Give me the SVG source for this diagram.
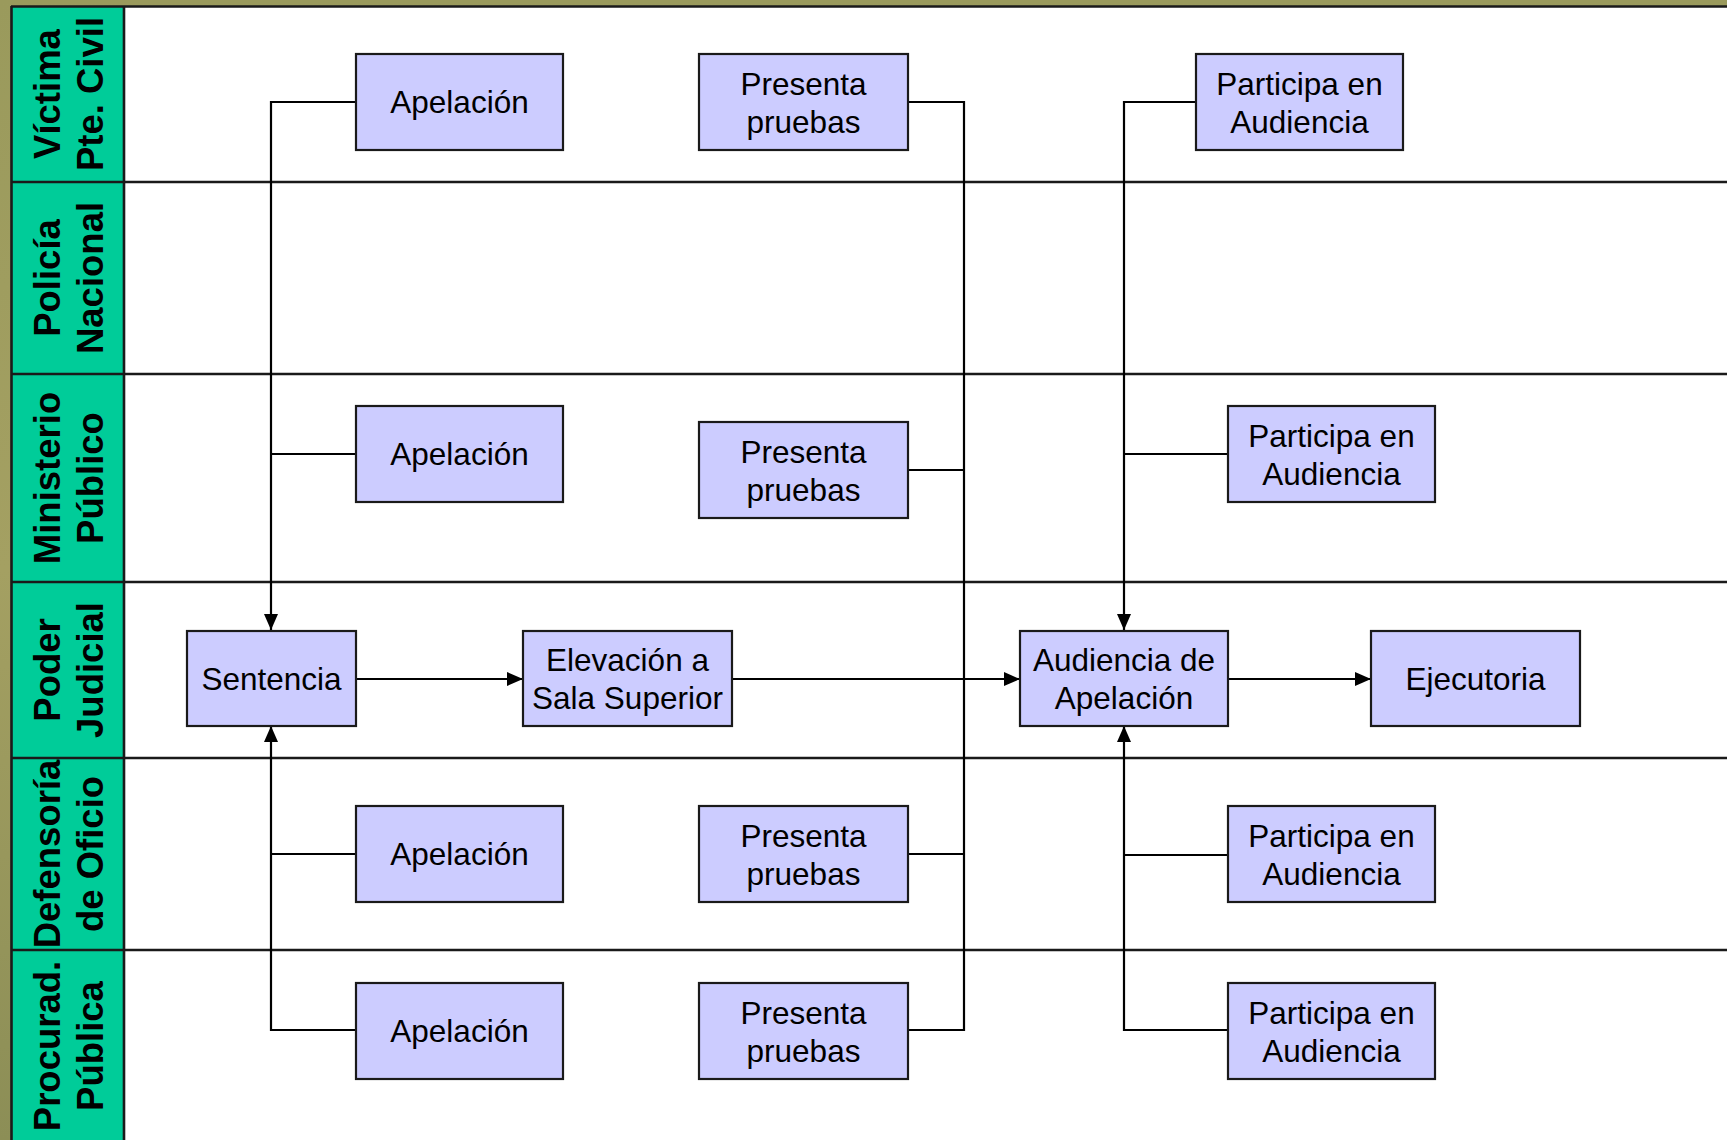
<svg xmlns="http://www.w3.org/2000/svg" width="1727" height="1140" viewBox="0 0 1727 1140">
<defs>
<linearGradient id="bg" x1="0" y1="0" x2="0" y2="1">
<stop offset="0" stop-color="#9a9a5c"/>
<stop offset="0.5" stop-color="#a4a062"/>
<stop offset="1" stop-color="#8c8e56"/>
</linearGradient>
<marker id="arr" markerUnits="userSpaceOnUse" viewBox="0 0 16 14" markerWidth="16" markerHeight="14" refX="16" refY="7" orient="auto">
<path d="M0,0 L16,7 L0,14 z" fill="#000"/>
</marker>
<style>
.lbl{font-family:"Liberation Sans",Arial,sans-serif;font-weight:bold;font-size:36.5px;fill:#000;text-anchor:middle}
.box rect{fill:#ccccff;stroke:#1a1a1a;stroke-width:2.2}
.box text{font-family:"Liberation Sans",Arial,sans-serif;font-size:31.5px;fill:#000;text-anchor:middle}
.lane{stroke:#1a1a1a;stroke-width:2.6;fill:none}
.conn path{stroke:#000;stroke-width:2.2;fill:none}
.conn path.a{marker-end:url(#arr)}
</style>
</defs>
<rect x="0" y="0" width="1727" height="1140" fill="url(#bg)"/>
<rect x="124" y="6" width="1603" height="1134" fill="#fff"/>
<rect x="11" y="6" width="113" height="1134" fill="#00cc99"/>
<g id="lanes">
<path class="lane" d="M11,6.5 H1727"/>
<path class="lane" d="M11,182 H1727 M11,374 H1727 M11,582 H1727 M11,758 H1727 M11,950 H1727"/>
<path class="lane" d="M11.5,6 V1140 M124,6 V1140"/>
</g>
<g id="labels">
<text class="lbl" transform="translate(60,94) rotate(-90)">Víctima</text>
<text class="lbl" transform="translate(103,94) rotate(-90)">Pte. Civil</text>
<text class="lbl" transform="translate(60,278) rotate(-90)">Policía</text>
<text class="lbl" transform="translate(103,278) rotate(-90)">Nacional</text>
<text class="lbl" transform="translate(60,478) rotate(-90)">Ministerio</text>
<text class="lbl" transform="translate(103,478) rotate(-90)">Público</text>
<text class="lbl" transform="translate(60,670) rotate(-90)">Poder</text>
<text class="lbl" transform="translate(103,670) rotate(-90)">Judicial</text>
<text class="lbl" transform="translate(60,854) rotate(-90)">Defensoría</text>
<text class="lbl" transform="translate(103,854) rotate(-90)">de Oficio</text>
<text class="lbl" transform="translate(60,1046) rotate(-90)">Procurad.</text>
<text class="lbl" transform="translate(103,1046) rotate(-90)">Pública</text>
</g>
<g class="conn" id="connectors">
<path class="a" d="M356,102 H271 V630"/>
<path d="M356,454 H271"/>
<path d="M356,854 H271"/>
<path class="a" d="M356,1030 H271 V726"/>
<path class="a" d="M356,679 H523"/>
<path d="M908,102 H964 V1030 H908"/>
<path d="M908,470 H964"/>
<path d="M908,854 H964"/>
<path class="a" d="M732,679 H1020"/>
<path class="a" d="M1196,102 H1124 V630"/>
<path d="M1228,454 H1124"/>
<path d="M1228,855 H1124"/>
<path class="a" d="M1228,1030 H1124 V726"/>
<path class="a" d="M1228,679 H1371"/>
</g>
<g class="box" id="apel1"><rect x="356" y="54" width="207" height="96"/><text x="459.5" y="113">Apelación</text></g>
<g class="box" id="pres1"><rect x="699" y="54" width="209" height="96"/><text x="803.5" y="95">Presenta</text><text x="803.5" y="133">pruebas</text></g>
<g class="box" id="part1"><rect x="1196" y="54" width="207" height="96"/><text x="1299.5" y="95">Participa en</text><text x="1299.5" y="133">Audiencia</text></g>
<g class="box" id="apel3"><rect x="356" y="406" width="207" height="96"/><text x="459.5" y="465">Apelación</text></g>
<g class="box" id="pres3"><rect x="699" y="422" width="209" height="96"/><text x="803.5" y="463">Presenta</text><text x="803.5" y="501">pruebas</text></g>
<g class="box" id="part3"><rect x="1228" y="406" width="207" height="96"/><text x="1331.5" y="447">Participa en</text><text x="1331.5" y="485">Audiencia</text></g>
<g class="box" id="sentencia"><rect x="187" y="631" width="169" height="95"/><text x="271.5" y="690">Sentencia</text></g>
<g class="box" id="elevacion"><rect x="523" y="631" width="209" height="95"/><text x="627.5" y="671">Elevación a</text><text x="627.5" y="709">Sala Superior</text></g>
<g class="box" id="audiencia"><rect x="1020" y="631" width="208" height="95"/><text x="1124" y="671">Audiencia de</text><text x="1124" y="709">Apelación</text></g>
<g class="box" id="ejecutoria"><rect x="1371" y="631" width="209" height="95"/><text x="1475.5" y="690">Ejecutoria</text></g>
<g class="box" id="apel5"><rect x="356" y="806" width="207" height="96"/><text x="459.5" y="865">Apelación</text></g>
<g class="box" id="pres5"><rect x="699" y="806" width="209" height="96"/><text x="803.5" y="847">Presenta</text><text x="803.5" y="885">pruebas</text></g>
<g class="box" id="part5"><rect x="1228" y="806" width="207" height="96"/><text x="1331.5" y="847">Participa en</text><text x="1331.5" y="885">Audiencia</text></g>
<g class="box" id="apel6"><rect x="356" y="983" width="207" height="96"/><text x="459.5" y="1042">Apelación</text></g>
<g class="box" id="pres6"><rect x="699" y="983" width="209" height="96"/><text x="803.5" y="1024">Presenta</text><text x="803.5" y="1062">pruebas</text></g>
<g class="box" id="part6"><rect x="1228" y="983" width="207" height="96"/><text x="1331.5" y="1024">Participa en</text><text x="1331.5" y="1062">Audiencia</text></g>
</svg>
